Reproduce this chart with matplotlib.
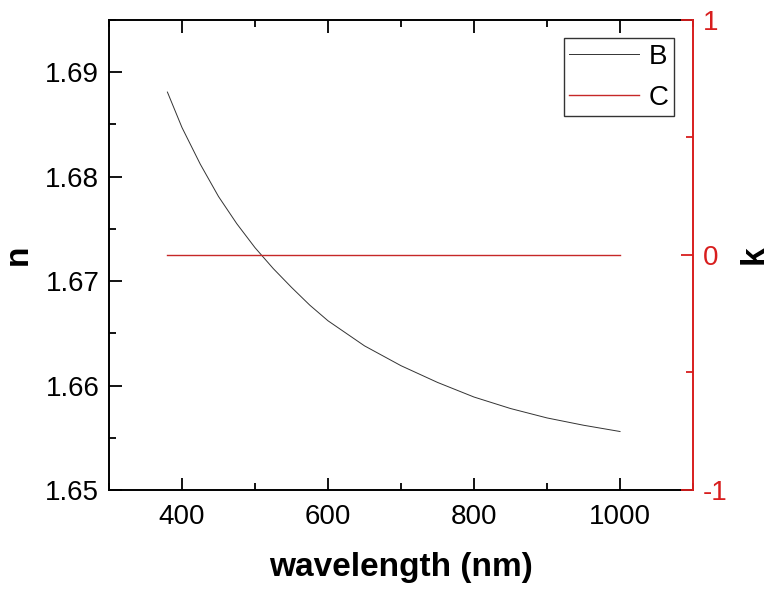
import matplotlib
matplotlib.use("Agg")
import matplotlib.pyplot as plt
from matplotlib.ticker import MultipleLocator, FormatStrFormatter, FuncFormatter

plt.rcParams['font.family'] = ['Liberation Sans', 'DejaVu Sans']

# data
wavelength_B = [380, 400, 425, 450, 475, 500, 525, 550, 575, 600, 650, 700,
                750, 800, 850, 900, 950, 1000]
n_B = [1.6881, 1.6847, 1.6812, 1.6781, 1.6755, 1.6732, 1.6712, 1.6694,
       1.6677, 1.6662, 1.6638, 1.6619, 1.6603, 1.6589, 1.6578, 1.6569,
       1.6562, 1.6556]
wavelength_C = [380, 1000]
k_C = [0.0, 0.0]

red = '#d81e1e'
line_red = '#c62828'

fig = plt.figure(figsize=(7.72, 5.90), dpi=100)
ax = fig.add_axes([0.1412, 0.1695, 0.8977 - 0.1412, 0.9661 - 0.1695])
ax2 = ax.twinx()

lB, = ax.plot(wavelength_B, n_B, color='#333333', lw=0.7, label='B')
lC, = ax2.plot(wavelength_C, k_C, color=line_red, lw=1.0, label='C')

ax.set_xlim(300, 1100)
ax.set_ylim(1.65, 1.695)
ax2.set_ylim(-1, 1)

ax.xaxis.set_major_locator(MultipleLocator(200))
ax.xaxis.set_minor_locator(MultipleLocator(100))
ax.yaxis.set_major_locator(MultipleLocator(0.01))
ax.yaxis.set_minor_locator(MultipleLocator(0.005))
ax2.yaxis.set_major_locator(MultipleLocator(1))
ax2.yaxis.set_minor_locator(MultipleLocator(0.5))
ax.yaxis.set_major_formatter(FormatStrFormatter('%.2f'))
ax2.yaxis.set_major_formatter(FuncFormatter(lambda v, p: '%d' % round(v)))

ax.tick_params(axis='both', which='major', direction='in', length=9, width=1.3,
               labelsize=20, top=True, right=False, pad=7)
ax.tick_params(axis='both', which='minor', direction='in', length=5, width=1.3,
               top=True, right=False)
ax.tick_params(axis='x', pad=10)
ax2.tick_params(axis='y', which='major', direction='in', length=9, width=1.3,
                labelsize=20, colors=red, pad=7)
ax2.tick_params(axis='y', which='minor', direction='in', length=5, width=1.3, colors=red)

for s in ['left', 'top', 'bottom']:
    ax.spines[s].set_linewidth(1.4)
    ax.spines[s].set_color('black')
ax.spines['right'].set_visible(False)
for s in ['left', 'top', 'bottom']:
    ax2.spines[s].set_visible(False)
ax2.spines['right'].set_color(red)
ax2.spines['right'].set_linewidth(1.4)

ax.set_xlabel('wavelength (nm)', fontsize=24, fontweight='bold', labelpad=16)
ax.set_ylabel('n', fontsize=24, fontweight='bold', labelpad=8)
ax2.set_ylabel('k', fontsize=24, fontweight='bold', labelpad=8, color='black')

leg = ax2.legend(handles=[lB, lC], loc='upper right',
                 bbox_to_anchor=(0.9675, 0.9617), borderaxespad=0,
                 fontsize=20, frameon=True, fancybox=False, edgecolor='black',
                 handlelength=2.5, handletextpad=0.35, labelspacing=0.55,
                 borderpad=0.2)
leg.get_frame().set_linewidth(1.0)

fig.savefig('out.png', dpi=100)
